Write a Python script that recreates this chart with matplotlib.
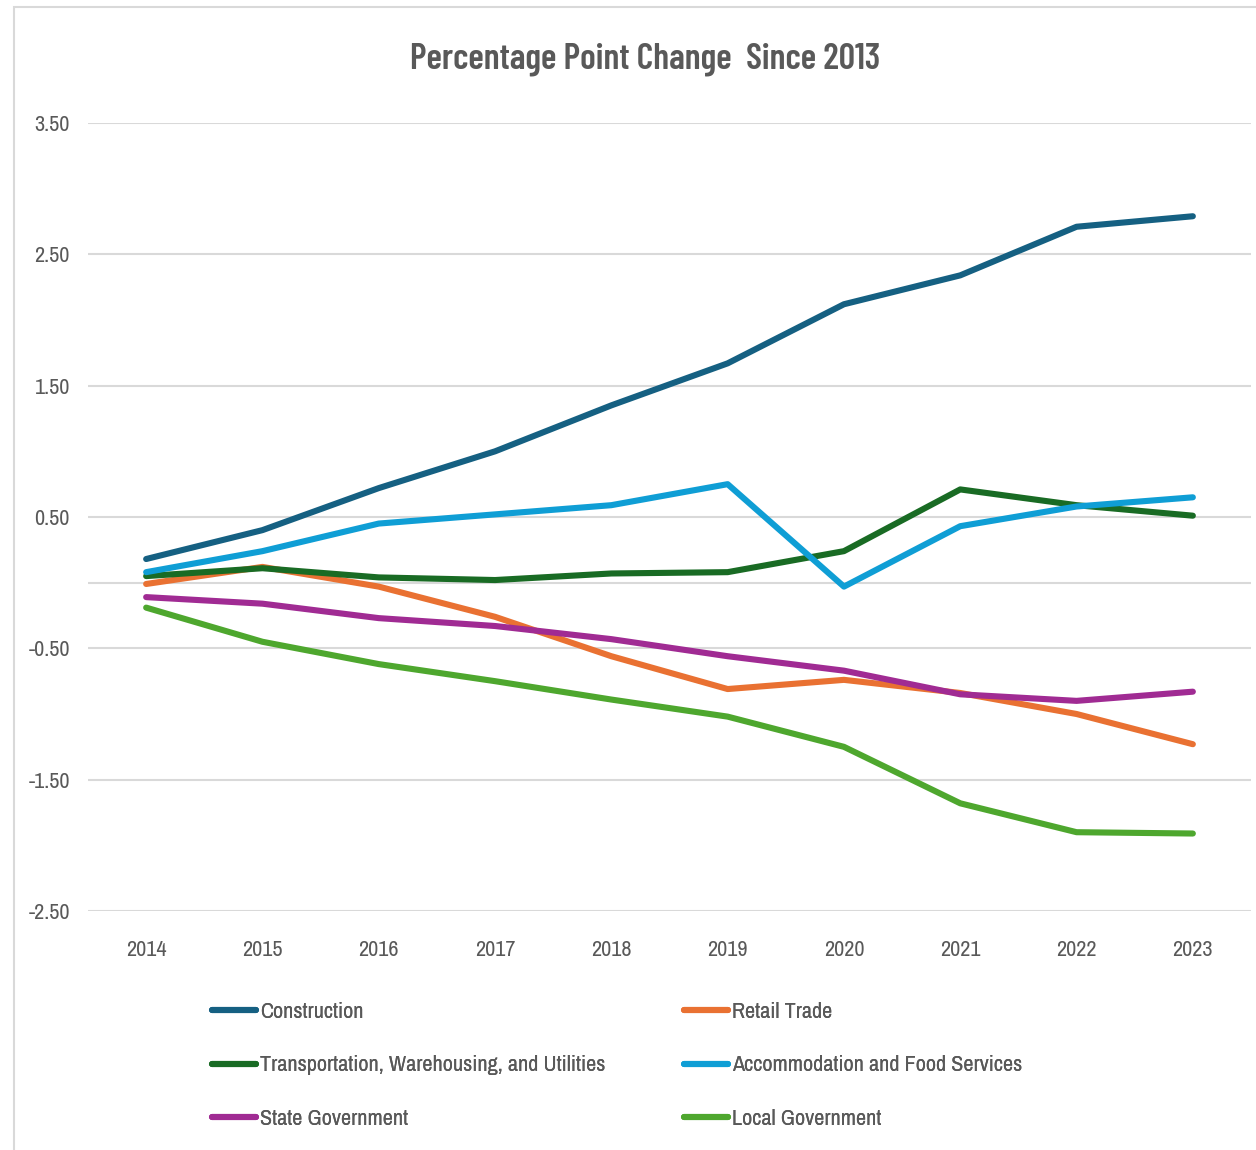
import matplotlib.pyplot as plt
from matplotlib.patches import Rectangle

years = ["2014", "2015", "2016", "2017", "2018", "2019", "2020", "2021", "2022", "2023"]

construction = [0.18, 0.40, 0.72, 1.00, 1.35, 1.67, 2.12, 2.34, 2.71, 2.79]
retail_trade = [-0.01, 0.12, -0.03, -0.26, -0.56, -0.81, -0.74, -0.84, -1.00, -1.23]
transportation = [0.05, 0.11, 0.04, 0.02, 0.07, 0.08, 0.24, 0.71, 0.59, 0.51]
accommodation = [0.08, 0.24, 0.45, 0.52, 0.59, 0.75, -0.03, 0.43, 0.58, 0.65]
state_gov = [-0.11, -0.16, -0.27, -0.33, -0.43, -0.56, -0.67, -0.85, -0.90, -0.83]
local_gov = [-0.19, -0.45, -0.62, -0.75, -0.89, -1.02, -1.25, -1.68, -1.90, -1.91]

yticks = [-2.5, -1.5, -0.5, 0.5, 1.5, 2.5, 3.5]

series = [
    ("Construction", construction, "#156082"),
    ("Retail Trade", retail_trade, "#E97132"),
    ("Transportation, Warehousing, and Utilities", transportation, "#196B24"),
    ("Accommodation and Food Services", accommodation, "#0F9ED5"),
    ("State Government", state_gov, "#A02B93"),
    ("Local Government", local_gov, "#4EA72E"),
]

grey = "#595959"
plt.rcParams['font.family'] = ["Archivo Narrow", "DejaVu Sans"]

fig = plt.figure(figsize=(12.56, 11.5), dpi=100)
# chart area border (runs off the right and bottom of the image)
fig.patches.append(Rectangle((14 / 1256, -0.1), 1.2, 1 - 7 / 1150 + 0.1,
                             transform=fig.transFigure, fill=False,
                             edgecolor="#D9D9D9", linewidth=1.5))

ax = fig.add_axes([88 / 1256, 1 - 911 / 1150, (1251 - 88) / 1256, (911 - 123) / 1150])
x = list(range(len(years)))

handles = {}
for name, vals, color in series:
    h, = ax.plot(x, vals, color=color, linewidth=4.4, solid_capstyle="round",
                 solid_joinstyle="round", label=name, zorder=3)
    handles[name] = h

ax.set_xlim(-0.5, len(years) - 0.5)
ax.set_ylim(-2.5, 3.5)
ax.set_yticks(yticks)
ax.set_yticklabels(["%.2f" % v for v in yticks])
ax.set_xticks(x)
ax.set_xticklabels(years)
ax.grid(axis="y", color="#D9D9D9", linewidth=1.5)
ax.axhline(0, color="#D9D9D9", linewidth=1.5, zorder=1)
ax.set_axisbelow(True)
for s in ax.spines.values():
    s.set_visible(False)
ax.tick_params(axis="both", length=0, labelsize=16, labelcolor=grey)
ax.tick_params(axis="y", pad=13)
ax.tick_params(axis="x", pad=21)

fig.text(645 / 1256, 1 - 59 / 1150, "Percentage Point Change  Since 2013",
         ha="center", va="center", fontsize=26, fontweight="semibold", color=grey,
         family=["Barlow Condensed", "DejaVu Sans"])

cols = [
    (212, ["Construction", "Transportation, Warehousing, and Utilities", "State Government"]),
    (684, ["Retail Trade", "Accommodation and Food Services", "Local Government"]),
]
for left, names in cols:
    leg = fig.legend([handles[n] for n in names], names,
                     loc="upper left", bbox_to_anchor=(left / 1256, 1 - 1002 / 1150),
                     frameon=False, fontsize=16, labelcolor=grey,
                     handlelength=1.98, handletextpad=0.18, labelspacing=1.5,
                     borderpad=0, borderaxespad=0)
    fig.add_artist(leg)

fig.savefig("out.png", dpi=100)
